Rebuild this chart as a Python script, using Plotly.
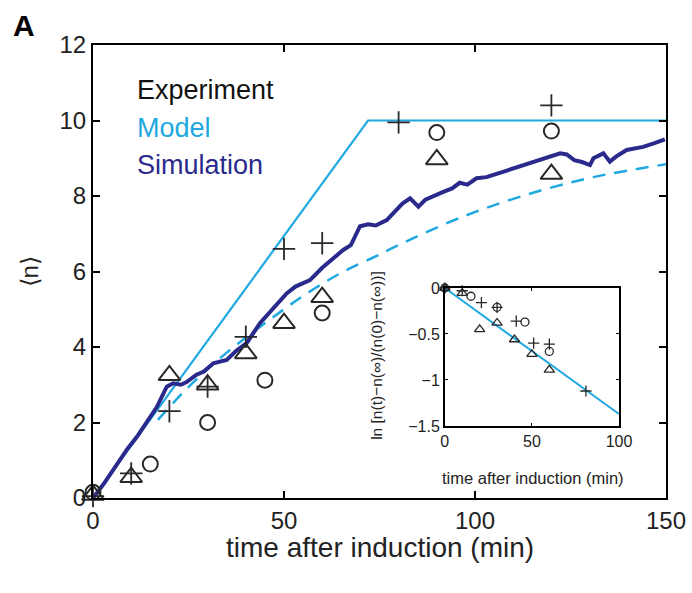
import plotly.graph_objects as go

# ---------------- data ----------------
# Experiment (main panel)
t_plus = [0, 10, 20, 30, 40, 50, 60, 80, 120]
n_plus = [0.05, 0.65, 2.3, 2.95, 4.27, 6.6, 6.75, 9.95, 10.4]
t_circ = [0, 15, 30, 45, 60, 90, 120]
n_circ = [0.15, 0.9, 2.0, 3.12, 4.9, 9.68, 9.72]
t_tri = [0, 10, 20, 30, 40, 50, 60, 90, 120]
n_tri = [0.08, 0.55, 3.25, 3.0, 3.83, 4.63, 5.32, 8.97, 8.58]

# Model (solid: linear then saturated; dashed: relaxation)
t_model = [0, 72, 150]
n_model = [0, 10, 10]
t_dash = [17, 25, 35, 50, 58, 66, 74, 80, 96, 113, 131, 150]
n_dash = [2.07, 2.94, 3.85, 5.0, 5.55, 6.02, 6.4, 6.7, 7.42, 8.02, 8.5, 8.84]

# Simulation
t_sim = [0, 3, 6, 9, 11.5, 14, 16.7, 19.3, 21, 23, 24.5, 27, 29, 31.5, 35, 37.5,
         40.2, 43.7, 47, 50.7, 53, 56.8, 60, 63, 65.5, 67.5, 69.9, 72, 74, 76.9,
         79, 81, 83, 85.2, 87, 89, 91.7, 94, 96, 98, 100.4, 103, 106, 109.2, 112,
         115.3, 118, 120, 122.3, 124, 126, 128, 130.1, 131, 133.6, 135.3, 137,
         139.7, 142, 144, 147, 149.7]
n_sim = [0.0, 0.4, 0.85, 1.3, 1.62, 2.0, 2.41, 2.95, 3.04, 3.0, 3.07, 3.26, 3.35,
         3.57, 3.66, 3.9, 4.1, 4.63, 5.0, 5.42, 5.6, 5.77, 6.1, 6.35, 6.57, 6.7,
         7.2, 7.25, 7.22, 7.36, 7.6, 7.8, 7.94, 7.72, 7.9, 8.0, 8.11, 8.2, 8.35,
         8.3, 8.47, 8.5, 8.6, 8.69, 8.8, 8.91, 9.0, 9.05, 9.13, 9.1, 8.95, 8.9,
         8.82, 9.0, 9.13, 8.91, 9.05, 9.22, 9.25, 9.3, 9.4, 9.5]

# Inset: ln[(n(t)-n(inf))/(n(0)-n(inf))]
ti_tri = [0, 10, 20, 30, 40, 50, 60]
vi_tri = [0, -0.055, -0.45, -0.38, -0.56, -0.72, -0.89]
ti_circ = [0, 15, 30, 46, 60]
vi_circ = [0, -0.09, -0.21, -0.37, -0.69]
ti_plus = [0, 10, 21, 30, 41, 51, 60, 81]
vi_plus = [0, -0.03, -0.16, -0.21, -0.36, -0.6, -0.61, -1.12]
ti_fit = [0, 100]
vi_fit = [0, -1.37]

x_ticks = [0, 50, 100, 150]
y_ticks = [0, 2, 4, 6, 8, 10, 12]
xi_ticks = [0, 50, 100]
yi_ticks = [0, -0.5, -1, -1.5]

# ---------------- styles ----------------
CYAN = "rgb(32,168,224)"
NAVY = "rgb(42,42,140)"
MK = "rgb(40,40,40)"
FONT = "Liberation Sans, Arial, sans-serif"

fig = go.Figure()

# main panel
fig.add_trace(go.Scatter(x=t_model, y=n_model, mode="lines",
                         line=dict(color=CYAN, width=2.2), showlegend=False))
fig.add_trace(go.Scatter(x=t_dash, y=n_dash, mode="lines", line_shape="spline",
                         line=dict(color=CYAN, width=2.5, dash="13px,9px"),
                         showlegend=False))
fig.add_trace(go.Scatter(x=t_sim, y=n_sim, mode="lines",
                         line=dict(color=NAVY, width=4), showlegend=False))
fig.add_trace(go.Scatter(x=t_circ, y=n_circ, mode="markers",
                         marker=dict(symbol="circle-open", size=15, color=MK,
                                     line=dict(color=MK, width=2)),
                         showlegend=False, cliponaxis=False))
fig.add_trace(go.Scatter(x=t_tri, y=n_tri, mode="markers",
                         marker=dict(symbol="triangle-up-open", size=19, color=MK,
                                     line=dict(color=MK, width=2)),
                         showlegend=False, cliponaxis=False))
fig.add_trace(go.Scatter(x=t_plus, y=n_plus, mode="markers",
                         marker=dict(symbol="cross-thin-open", size=16, color=MK,
                                     line=dict(color=MK, width=1.8)),
                         showlegend=False, cliponaxis=False))

# inset
fig.add_trace(go.Scatter(x=ti_fit, y=vi_fit, mode="lines", xaxis="x2", yaxis="y2",
                         line=dict(color=CYAN, width=2), showlegend=False))
fig.add_trace(go.Scatter(x=ti_tri, y=vi_tri, mode="markers", xaxis="x2", yaxis="y2",
                         marker=dict(symbol="triangle-up-open", size=9, color=MK,
                                     line=dict(color=MK, width=1.3)),
                         showlegend=False, cliponaxis=False))
fig.add_trace(go.Scatter(x=ti_circ, y=vi_circ, mode="markers", xaxis="x2", yaxis="y2",
                         marker=dict(symbol="circle-open", size=8, color=MK,
                                     line=dict(color=MK, width=1.3)),
                         showlegend=False, cliponaxis=False))
fig.add_trace(go.Scatter(x=ti_plus, y=vi_plus, mode="markers", xaxis="x2", yaxis="y2",
                         marker=dict(symbol="cross-thin-open", size=8, color=MK,
                                     line=dict(color=MK, width=1.3)),
                         showlegend=False, cliponaxis=False))

axis_common = dict(showgrid=False, zeroline=False, showline=True, linecolor="black",
                   ticks="inside", mirror="ticks", tickcolor="black", automargin=False)

fig.update_layout(
    width=692, height=593,
    margin=dict(l=93, r=26, t=45, b=95, autoexpand=False),
    paper_bgcolor="white", plot_bgcolor="white",
    font=dict(family=FONT, color="#222"),
    xaxis=dict(range=[0, 150], tickvals=x_ticks, linewidth=2, tickwidth=2, ticklen=7,
               tickfont=dict(size=24, color="#222"), domain=[0, 1], **axis_common),
    yaxis=dict(range=[0, 12], tickvals=y_ticks, linewidth=2, tickwidth=2, ticklen=7,
               tickfont=dict(size=24, color="#222"), domain=[0, 1], **axis_common),
    xaxis2=dict(range=[0, 100], tickvals=xi_ticks, anchor="y2", linewidth=1.5,
                tickwidth=1.2, ticklen=3, tickfont=dict(size=16, color="#222"),
                domain=[0.614, 0.918], **axis_common),
    yaxis2=dict(range=[-1.5, 0], tickvals=yi_ticks, anchor="x2", linewidth=1.5,
                tickwidth=1.2, ticklen=3, tickfont=dict(size=16, color="#222"),
                domain=[0.159, 0.4636], **axis_common),
)

ann = [
    dict(text="<b>A</b>", x=-0.12, y=1.042, font=dict(size=30, color="black")),
    dict(text="time after induction (min)", x=0.5, y=-0.11, font=dict(size=28, color="#222")),
    dict(text="⟨n⟩", x=-0.11, y=0.5, textangle=-90, font=dict(size=24, color="#222")),
    dict(text="Experiment", x=0.0733, y=0.9007, xanchor="left", font=dict(size=27, color="#111")),
    dict(text="Model", x=0.0733, y=0.8168, xanchor="left", font=dict(size=27, color=CYAN)),
    dict(text="Simulation", x=0.0733, y=0.735, xanchor="left", font=dict(size=27, color=NAVY)),
    dict(text="time after induction (min)", x=0.768, y=0.044, font=dict(size=16.5, color="#222")),
    dict(text="ln [n(t)−n(∞)/(n(0)−n(∞))]", x=0.4956, y=0.316, textangle=-90,
         font=dict(size=15.5, color="#222")),
]
for a in ann:
    a.setdefault("xanchor", "center")
    fig.add_annotation(xref="paper", yref="paper", showarrow=False, yanchor="middle", **a)

fig.write_html("out.html")
